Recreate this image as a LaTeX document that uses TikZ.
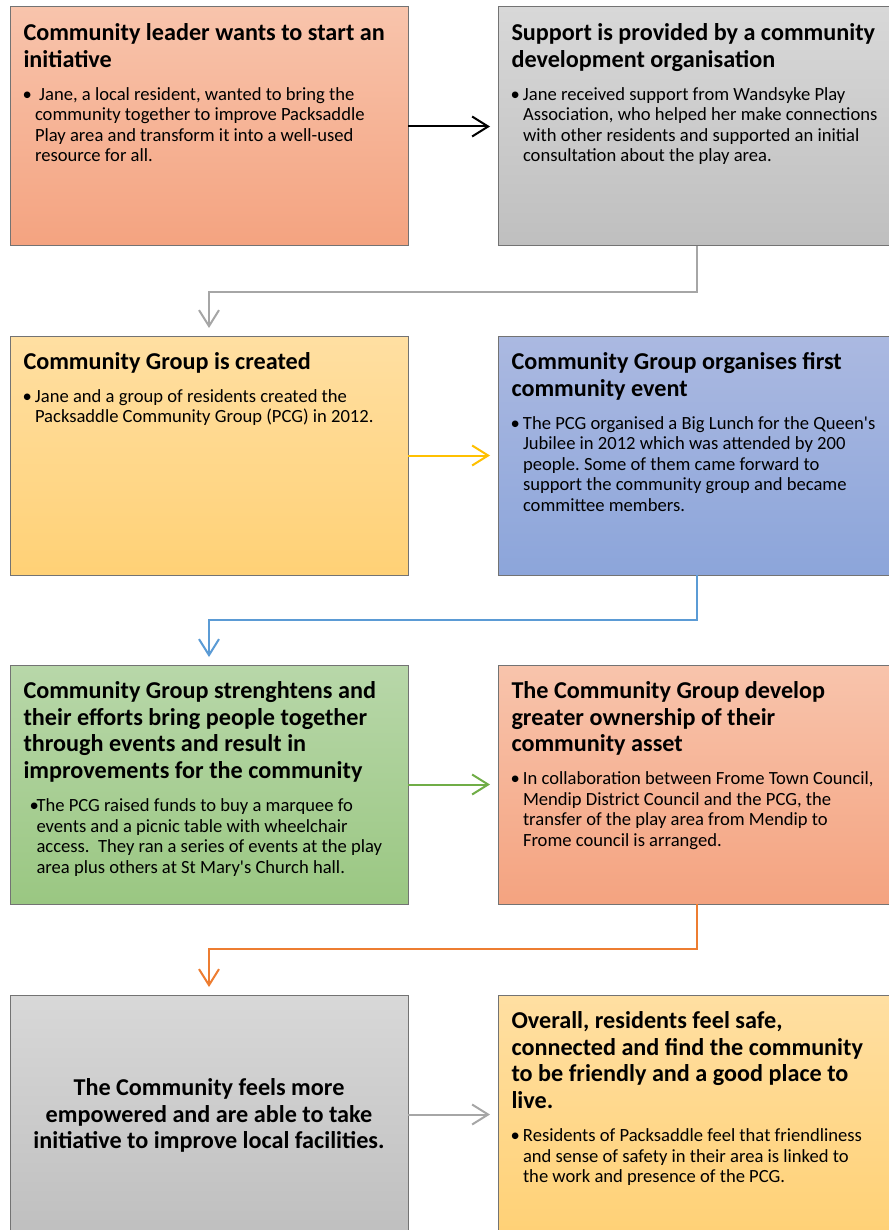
\documentclass[tikz,border=0pt]{standalone}
\usepackage{fontspec}
\setmainfont{Carlito}
\usetikzlibrary{arrows.meta}
\frenchspacing
\definecolor{salmonTop}{HTML}{F8C4AC}
\definecolor{salmonBot}{HTML}{F4A380}
\definecolor{greyTop}{HTML}{D8D8D8}
\definecolor{greyBot}{HTML}{BFBFBF}
\definecolor{sandTop}{HTML}{FFDFA2}
\definecolor{sandBot}{HTML}{FFD176}
\definecolor{blueTop}{HTML}{ABB9E1}
\definecolor{blueBot}{HTML}{8CA5DA}
\definecolor{leafTop}{HTML}{B8D7A9}
\definecolor{leafBot}{HTML}{9AC782}
\definecolor{arrGrey}{HTML}{A6A6A6}
\definecolor{arrGold}{HTML}{FFC000}
\definecolor{arrBlue}{HTML}{5B9BD5}
\definecolor{arrLeaf}{HTML}{70AD47}
\definecolor{arrOrange}{HTML}{ED7D31}
\newcommand{\ttl}{\fontsize{24.2}{26.7}\selectfont\bfseries}
\newcommand{\bdy}{\fontsize{18.6}{20.5}\selectfont}
\newcommand{\bul}[1]{\makebox[11.5pt][l]{\hspace{-1pt}\textbullet}\parbox[t]{360pt}{\raggedright #1}}
\newcommand{\infobox}[1]{\parbox[t]{385pt}{\raggedright #1}}
\tikzset{
  stage/.style={draw=black!55, line width=1pt, minimum width=398pt, minimum height=239pt, inner sep=0pt, outer sep=0pt, anchor=north west},
  info/.style={anchor=north west, inner sep=0pt, outer sep=0pt},
  flow/.style={line width=2pt, -{Straight Barb[length=16pt,width=20pt]}, shorten >=8pt},
}

\begin{document}
\begin{tikzpicture}[x=1pt, y=-1pt]
		%%%%% START %%%%%
		\useasboundingbox (0, 0) rectangle (888, 1230);
		
		\node[stage, top color=salmonTop, bottom color=salmonBot] (leader) at (10, 7) {};
		\node[stage, top color=greyTop, bottom color=greyBot] (support) at (498, 7) {};
		\node[stage, top color=sandTop, bottom color=sandBot] (created) at (10, 336) {};
		\node[stage, top color=blueTop, bottom color=blueBot] (event) at (498, 336) {};
		\node[stage, top color=leafTop, bottom color=leafBot] (stronger) at (10, 665) {};
		\node[stage, top color=salmonTop, bottom color=salmonBot] (owner) at (498, 665) {};
		\node[stage, top color=greyTop, bottom color=greyBot] (empower) at (10, 995) {};
		\node[stage, top color=sandTop, bottom color=sandBot] (overall) at (498, 995) {};
		
		\node[info] (leaderTxt) at ([xshift=13.5pt, yshift=-16.5pt]leader.north west) {\infobox{{\ttl Community leader wants to start an\\initiative\par}\vspace{12.5pt}{\bdy\bul{~Jane, a local resident, wanted to bring the\\community together to improve Packsaddle\\Play area and transform it into a well-used\\resource for all.}\par}}};
		
		\node[info] (supportTxt) at ([xshift=13.5pt, yshift=-16.5pt]support.north west) {\infobox{{\ttl Support is provided by a community\\development organisation\par}\vspace{12.5pt}{\bdy\bul{Jane received support from Wandsyke Play\\Association, who helped her make connections\\with other residents and supported an initial\\consultation about the play area.}\par}}};
		
		\node[info] (createdTxt) at ([xshift=13.5pt, yshift=-16.5pt]created.north west) {\infobox{{\ttl Community Group is created\par}\vspace{12.5pt}{\bdy\bul{Jane and a group of residents created the\\Packsaddle Community Group (PCG) in 2012.}\par}}};
		
		\node[info] (eventTxt) at ([xshift=13.5pt, yshift=-16.5pt]event.north west) {\infobox{{\ttl Community Group organises first\\community event\par}\vspace{12.5pt}{\bdy\bul{The PCG organised a Big Lunch for the Queen\textquotesingle s\\Jubilee in 2012 which was attended by 200\\people. Some of them came forward to\\support the community group and became\\committee members.}\par}}};
		
		\node[info] (strongerTxt) at ([xshift=13.5pt, yshift=-16.5pt]stronger.north west) {\infobox{{\ttl Community Group strenghtens and\\their efforts bring people together\\through events and result in\\improvements for the community\par}\vspace{12.5pt}{\bdy\hspace*{6pt}\makebox[7pt][l]{\textbullet}\parbox[t]{365pt}{\raggedright The PCG raised funds to buy a marquee fo\\events and a picnic table with wheelchair\\access.\ \ They ran a series of events at the play\\area plus others at St Mary\textquotesingle s Church hall.}\par}}};
		
		\node[info] (ownerTxt) at ([xshift=13.5pt, yshift=-16.5pt]owner.north west) {\infobox{{\ttl The Community Group develop\\greater ownership of their\\community asset\par}\vspace{12.5pt}{\bdy\bul{In collaboration between Frome Town Council,\\Mendip District Council and the PCG, the\\transfer of the play area from Mendip to\\Frome council is arranged.}\par}}};
		
		\node[inner sep=0pt] (empowerTxt) at ([yshift=-1pt]empower.center) {\parbox{398pt}{\centering\ttl The Community feels more\\empowered and are able to take\\initiative to improve local facilities.\par}};
		
		\node[info] (overallTxt) at ([xshift=13.5pt, yshift=-16.5pt]overall.north west) {\infobox{{\ttl Overall, residents feel safe,\\connected and find the community\\to be friendly and a good place to\\live.\par}\vspace{12.5pt}{\bdy\bul{Residents of Packsaddle feel that friendliness\\and sense of safety in their area is linked to\\the work and presence of the PCG.}\par}}};
		
		\draw[flow, color=black] (leader.east) -- (support.west);
		\draw[flow, color=arrGrey] (support.south) -- ++(0, 46) -| (created.north);
		\draw[flow, color=arrGold] (created.east) -- (event.west);
		\draw[flow, color=arrBlue] (event.south) -- ++(0, 45) -| (stronger.north);
		\draw[flow, color=arrLeaf] (stronger.east) -- (owner.west);
		\draw[flow, color=arrOrange] (owner.south) -- ++(0, 45) -| (empower.north);
		\draw[flow, color=arrGrey] (empower.east) -- (overall.west);
		
		%%%%% END %%%%%
\end{tikzpicture}
\end{document}
